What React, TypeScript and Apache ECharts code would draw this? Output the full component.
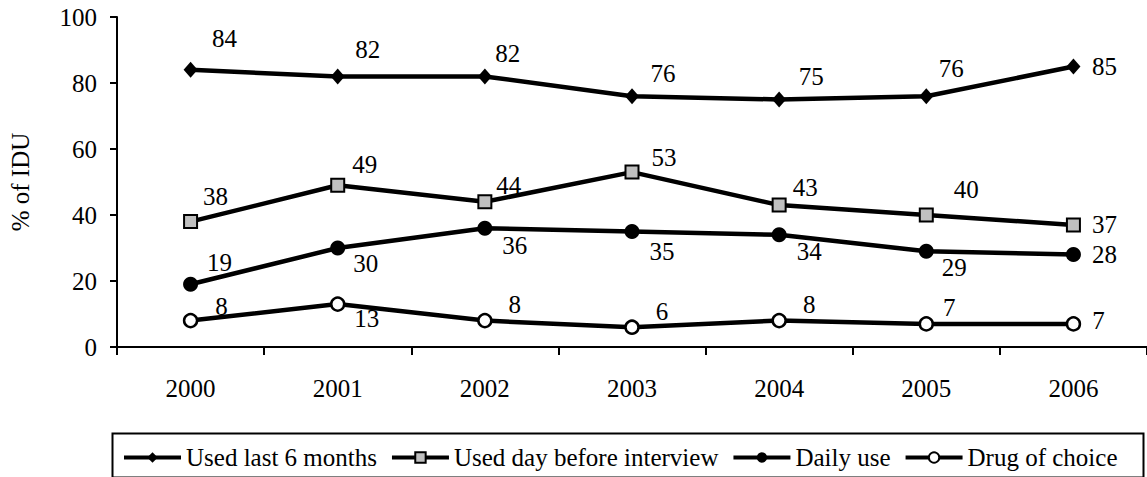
import React, { useEffect, useRef } from "react";
import * as echarts from "echarts";

const years = ["2000", "2001", "2002", "2003", "2004", "2005", "2006"];
const usedLast6Months = [84, 82, 82, 76, 75, 76, 85];
const usedDayBefore = [38, 49, 44, 53, 43, 40, 37];
const dailyUse = [19, 30, 36, 35, 34, 29, 28];
const drugOfChoice = [8, 13, 8, 6, 8, 7, 7];
const yTicks = { min: 0, max: 100, interval: 20 };

// label offsets (dx, dy) relative to each point — styling only
const offLast6 = [[34, -31], [30, -27], [23, -23], [31, -23], [32, -23], [25, -28], [31, 0]];
const offDayBefore = [[25, -25], [27, -21], [24, -16], [32, -15], [26, -18], [40, -26], [31, 0]];
const offDaily = [[29, -22], [28, 15], [30, 17], [30, 20], [30, 17], [28, 16], [31, 0]];
const offDrug = [[31, -14], [29, 14], [30, -16], [30, -16], [30, -16], [23, -16], [25, -3]];

const FONT = "'Liberation Serif', 'Times New Roman', Times, serif";
const FS = 25;

function mkData(vals: number[], offs: number[][]) {
  return vals.map((v, i) => ({
    value: v,
    label: { offset: offs[i] },
  }));
}

export default function App() {
  const ref = useRef<HTMLDivElement>(null);
  useEffect(() => {
    if (!ref.current) return;
    const chart = echarts.init(ref.current, undefined, { renderer: "svg" });
    const baseLabel = {
      show: true,
      position: "inside" as const,
      color: "#000",
      fontFamily: FONT,
      fontSize: FS,
    };
    const lineStyle = { color: "#000", width: 4.5 };
    chart.setOption({
      animation: false,
      backgroundColor: "#fff",
      textStyle: { fontFamily: FONT, color: "#000" },
      grid: { left: 104, right: 0, top: 17, bottom: 130, containLabel: false },
      xAxis: {
        type: "category",
        data: years,
        boundaryGap: true,
        axisLine: { lineStyle: { color: "#000", width: 2 } },
        axisTick: { show: true, alignWithLabel: false, length: 8, lineStyle: { color: "#000", width: 2 } },
        axisLabel: { color: "#000", fontFamily: FONT, fontSize: FS, margin: 29 },
        splitLine: { show: false },
      },
      yAxis: {
        type: "value",
        min: yTicks.min,
        max: yTicks.max,
        interval: yTicks.interval,
        name: "% of IDU",
        nameLocation: "middle",
        nameGap: 84,
        nameRotate: 90,
        nameTextStyle: { color: "#000", fontFamily: FONT, fontSize: FS },
        axisLine: { show: true, lineStyle: { color: "#000", width: 2 } },
        axisTick: { show: true, length: 7, lineStyle: { color: "#000", width: 2 } },
        axisLabel: { color: "#000", fontFamily: FONT, fontSize: FS, margin: 20 },
        splitLine: { show: false },
      },
      legend: {
        left: 117,
        top: 440,
        itemWidth: 57,
        itemHeight: 13,
        itemGap: 13,
        lineStyle: { width: 4 },
        textStyle: { color: "#000", fontFamily: FONT, fontSize: FS, padding: [0, 0, 0, 0] },
        data: ["Used last 6 months", "Used day before interview", "Daily use", "Drug of choice"],
      },
      graphic: [
        {
          type: "rect",
          left: 110,
          top: 431,
          shape: { width: 1031, height: 44 },
          style: { fill: "none", stroke: "#000", lineWidth: 2 },
          z: -1,
        },
      ],
      series: [
        {
          name: "Used last 6 months",
          type: "line",
          data: mkData(usedLast6Months, offLast6),
          symbol: "diamond",
          symbolSize: [14, 16],
          itemStyle: { color: "#000", borderColor: "#000", borderWidth: 0 },
          lineStyle,
          label: baseLabel,
        },
        {
          name: "Used day before interview",
          type: "line",
          data: mkData(usedDayBefore, offDayBefore),
          symbol: "rect",
          symbolSize: 13,
          itemStyle: { color: "#c0c0c0", borderColor: "#000", borderWidth: 2 },
          lineStyle,
          label: baseLabel,
        },
        {
          name: "Daily use",
          type: "line",
          data: mkData(dailyUse, offDaily),
          symbol: "circle",
          symbolSize: 15,
          itemStyle: { color: "#000", borderColor: "#000", borderWidth: 0 },
          lineStyle,
          label: baseLabel,
        },
        {
          name: "Drug of choice",
          type: "line",
          data: mkData(drugOfChoice, offDrug),
          symbol: "circle",
          symbolSize: 13,
          itemStyle: { color: "#fff", borderColor: "#000", borderWidth: 2.5 },
          lineStyle,
          label: baseLabel,
        },
      ],
    });
    return () => chart.dispose();
  }, []);
  return (
    <div
      ref={ref}
      style={{ position: "absolute", left: 0, top: 0, width: 1147, height: 477 }}
    />
  );
}
